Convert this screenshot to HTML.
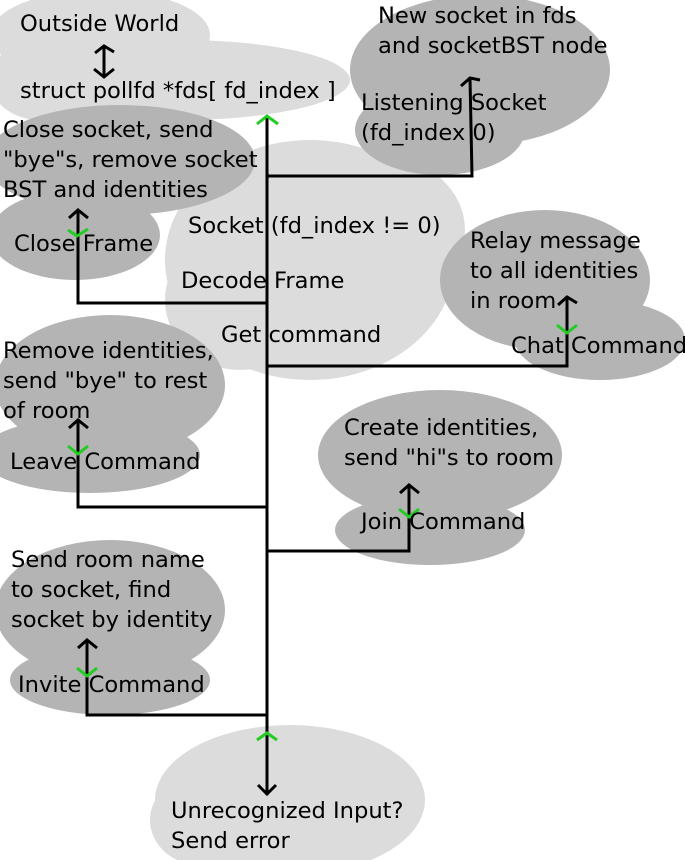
<!DOCTYPE html>
<html><head><style>
html,body{margin:0;padding:0;background:#fff;}
svg{display:block}
text{font-family:"DejaVu Sans","Liberation Sans",sans-serif;font-size:22.6px;fill:#000;}
</style></head><body>
<svg width="685" height="860" viewBox="0 0 685 860" xmlns="http://www.w3.org/2000/svg">
<g fill="#dcdcdc">
<ellipse cx="100" cy="35" rx="110" ry="45"/>
<ellipse cx="180" cy="80" rx="170" ry="40"/>
<ellipse cx="40" cy="80" rx="50" ry="40"/>
<ellipse cx="310" cy="260" rx="145" ry="120"/>
<ellipse cx="240" cy="300" rx="75" ry="70"/>
<ellipse cx="390" cy="230" rx="75" ry="70"/>
<ellipse cx="290" cy="800" rx="135" ry="75"/>
<ellipse cx="200" cy="820" rx="50" ry="45"/>
</g>
<g fill="#b4b4b4">
<ellipse cx="120" cy="160" rx="135" ry="55"/>
<ellipse cx="75" cy="235" rx="85" ry="45"/>
<ellipse cx="480" cy="70" rx="130" ry="75"/>
<ellipse cx="440" cy="130" rx="85" ry="45"/>
<ellipse cx="545" cy="280" rx="105" ry="70"/>
<ellipse cx="600" cy="340" rx="85" ry="40"/>
<ellipse cx="110" cy="385" rx="115" ry="70"/>
<ellipse cx="90" cy="455" rx="110" ry="38"/>
<ellipse cx="440" cy="455" rx="122" ry="65"/>
<ellipse cx="430" cy="530" rx="95" ry="35"/>
<ellipse cx="110" cy="610" rx="115" ry="70"/>
<ellipse cx="110" cy="680" rx="100" ry="35"/>
</g>
<g stroke="#000" stroke-width="3" fill="none">
<line x1="104" y1="47" x2="104" y2="77"/>
<polyline points="95,53 104,46 114,52"/>
<polyline points="94,69 104,77 114,69"/>
<line x1="267" y1="118" x2="267" y2="795"/>
<polyline points="267,176 472,176 470,78"/>
<polyline points="461,86 470,78 480,80"/>
<polyline points="267,303 78,303 78,210"/>
<polyline points="69,218 78,210 88,218"/>
<polyline points="267,366 567,366 567,297"/>
<polyline points="558,305 567,297 577,303"/>
<polyline points="267,507 78,507 78,420"/>
<polyline points="69,428 78,420 88,428"/>
<polyline points="267,551 409,551 409,485"/>
<polyline points="400,493 409,485 419,493"/>
<polyline points="267,715 87,715 87,640"/>
<polyline points="78,648 87,640 97,648"/>
<polyline points="258,785 267,794 276,785"/>
</g>
<g stroke="#22cc22" stroke-width="3" fill="none">
<polyline points="257,124 267,116 278,124"/>
<polyline points="68,230 77,236 88,229"/>
<polyline points="557,325 567,333 577,325"/>
<polyline points="68,446 78,454 88,446"/>
<polyline points="399,509 409,517 419,509"/>
<polyline points="77,668 87,676 97,668"/>
<polyline points="257,740 267,733 277,740"/>
</g>
<text x="20" y="31">Outside World</text>
<text x="20" y="98">struct pollfd *fds[ fd_index ]</text>
<text x="378" y="23">New socket in fds</text>
<text x="378" y="53">and socketBST node</text>
<text x="361" y="110">Listening Socket</text>
<text x="361" y="140">(fd_index 0)</text>
<text x="3" y="137">Close socket, send</text>
<text x="3" y="167">"bye"s, remove socket</text>
<text x="3" y="197">BST and identities</text>
<text x="14" y="251">Close Frame</text>
<text x="188" y="233">Socket (fd_index != 0)</text>
<text x="181" y="288">Decode Frame</text>
<text x="221" y="342">Get command</text>
<text x="470" y="248">Relay message</text>
<text x="470" y="278">to all identities</text>
<text x="470" y="308">in room</text>
<text x="511" y="353">Chat Command</text>
<text x="3" y="358">Remove identities,</text>
<text x="3" y="388">send "bye" to rest</text>
<text x="3" y="418">of room</text>
<text x="10" y="469">Leave Command</text>
<text x="344" y="435">Create identities,</text>
<text x="344" y="465">send "hi"s to room</text>
<text x="361" y="529">Join Command</text>
<text x="11" y="567">Send room name</text>
<text x="11" y="597">to socket, find</text>
<text x="11" y="627">socket by identity</text>
<text x="18" y="692">Invite Command</text>
<text x="171" y="818">Unrecognized Input?</text>
<text x="171" y="848">Send error</text>
</svg>
</body></html>
